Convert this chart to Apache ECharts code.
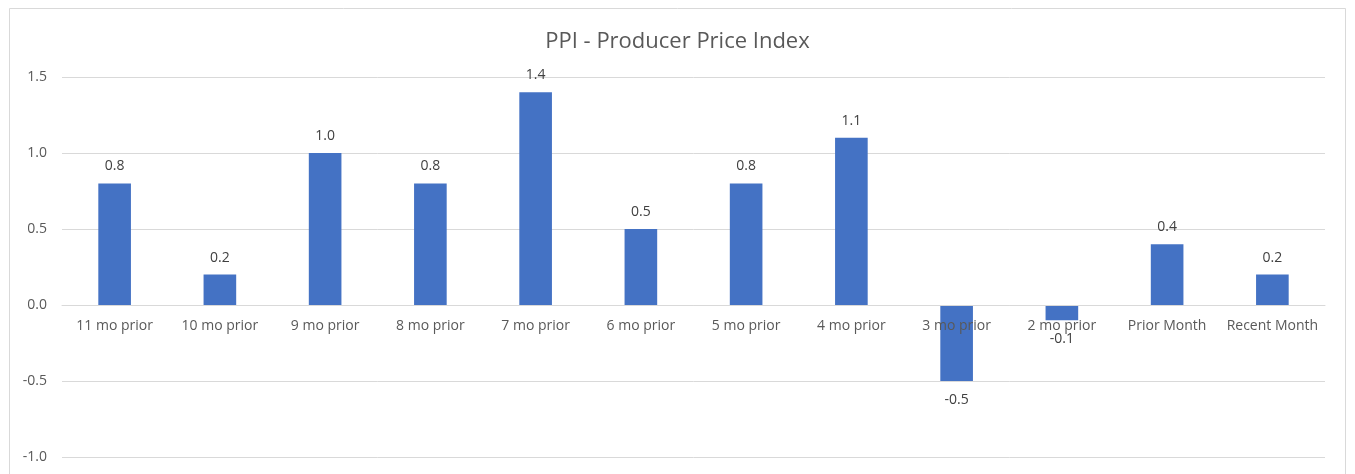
<!DOCTYPE html>
<html>
<head>
<meta charset="utf-8">
<script src="https://cdn.jsdelivr.net/npm/echarts@6/dist/echarts.min.js"></script>
<style>
html,body{margin:0;padding:0;background:#fff;}
#chart{width:1355px;height:474px;}
</style>
</head>
<body>
<div id="chart"></div>
<script>
const categories = ['11 mo prior','10 mo prior','9 mo prior','8 mo prior','7 mo prior','6 mo prior','5 mo prior','4 mo prior','3 mo prior','2 mo prior','Prior Month','Recent Month'];
const ppiValues = [0.8, 0.2, 1.0, 0.8, 1.4, 0.5, 0.8, 1.1, -0.5, -0.1, 0.4, 0.2];
const yTicks = { min: -1.0, max: 1.5, interval: 0.5 };

const FONT = 'Open Sans';
const GRID_TOP = 77, GRID_BOTTOM = 17, H = 474;
const plotH = H - GRID_TOP - GRID_BOTTOM;
// shift the category axis up to the zero line, computed from the value scale
const zeroOffset = -plotH * (0 - yTicks.min) / (yTicks.max - yTicks.min);

const chart = echarts.init(document.getElementById('chart'), null, {renderer:'canvas'});
chart.setOption({
  backgroundColor: '#fff',
  animation: false,
  textStyle: { fontFamily: FONT },
  graphic: [{
    type: 'rect',
    shape: { x: 9.5, y: 8.5, width: 1336, height: 480 },
    style: { fill: 'none', stroke: '#d9d9d9', lineWidth: 1 },
    silent: true
  }],
  title: {
    text: 'PPI - Producer Price Index',
    left: 'center',
    top: 26,
    textStyle: { fontFamily: FONT, fontSize: 22, fontWeight: 'normal', color: '#595959' }
  },
  grid: { left: 62, right: 30, top: GRID_TOP, bottom: GRID_BOTTOM, containLabel: false, outerBoundsMode: 'none' },
  xAxis: {
    type: 'category',
    data: categories,
    offset: zeroOffset,
    axisLine: { onZero: false, lineStyle: { color: '#d9d9d9' } },
    axisTick: { show: false },
    axisLabel: { color: '#595959', fontSize: 14, margin: 14, fontFamily: FONT, interval: 0 },
    splitLine: { show: false },
    z: 5
  },
  yAxis: {
    type: 'value',
    min: yTicks.min, max: yTicks.max, interval: yTicks.interval,
    axisLine: { show: false },
    axisTick: { show: false },
    axisLabel: { color: '#595959', fontSize: 14, margin: 15, fontFamily: FONT, formatter: v => v.toFixed(1) },
    splitLine: { lineStyle: { color: '#d9d9d9', width: 1 } }
  },
  series: [{
    type: 'bar',
    barWidth: '31%',
    z: 2,
    itemStyle: { color: '#4472C4' },
    data: ppiValues.map(v => ({
      value: v,
      label: { position: v < 0 ? 'bottom' : 'top', distance: v < 0 ? 12 : 10 }
    })),
    label: {
      show: true,
      color: '#404040',
      fontSize: 14,
      fontFamily: FONT,
      formatter: p => p.value.toFixed(1)
    }
  }]
});
</script>
</body>
</html>
